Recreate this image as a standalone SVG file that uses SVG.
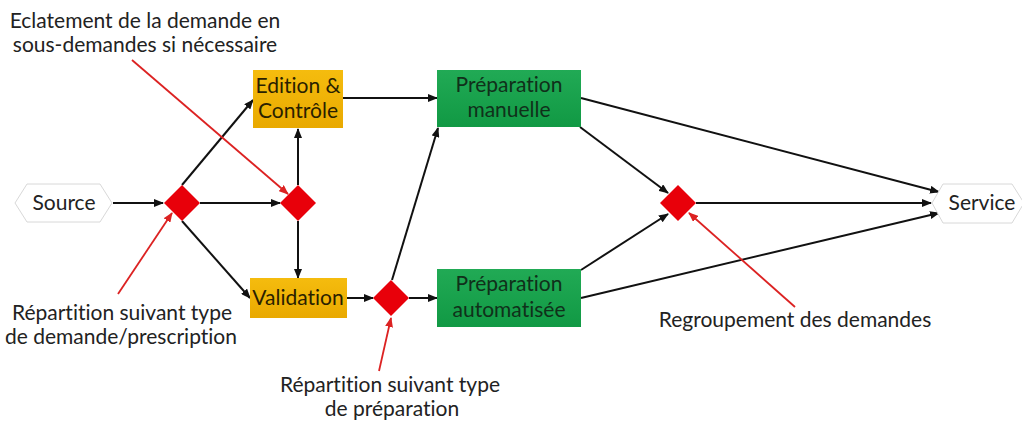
<svg xmlns="http://www.w3.org/2000/svg" width="1022" height="421" viewBox="0 0 1022 421">
<defs>
<style>
text{font-family:Lato,"Open Sans","Liberation Sans",sans-serif;font-size:21px;fill:#222;text-anchor:middle;font-variant-ligatures:none;font-feature-settings:"liga" 0}
.bt{fill:#2a1f00}
.gt{fill:#10301a}
.c{stroke:#111;stroke-width:2;fill:none;marker-end:url(#ah)}
.r{stroke:#dc2222;stroke-width:1.8;fill:none;marker-end:url(#rh)}
.hex{fill:#fff;stroke:#d8d8d8;stroke-width:1}
.dia{fill:#e8000a}
.or{fill:url(#og)}
.gr{fill:url(#gg)}
</style>
<linearGradient id="og" x1="0" y1="0" x2="0" y2="1"><stop offset="0" stop-color="#f5bc0e"/><stop offset="1" stop-color="#e9a900"/></linearGradient>
<linearGradient id="gg" x1="0" y1="0" x2="0" y2="1"><stop offset="0" stop-color="#21aa55"/><stop offset="1" stop-color="#119944"/></linearGradient>
<marker id="ah" markerUnits="userSpaceOnUse" markerWidth="10" markerHeight="8" refX="9" refY="4" orient="auto"><path d="M0,0 L10,4 L0,8 z" fill="#111"/></marker>
<marker id="rh" markerUnits="userSpaceOnUse" markerWidth="10" markerHeight="8" refX="9" refY="4" orient="auto"><path d="M0,0 L10,4 L0,8 z" fill="#dc2222"/></marker>
</defs>
<g id="connectors">
<line class="c" x1="113" y1="203" x2="163" y2="203"/>
<line class="c" x1="200" y1="203" x2="280" y2="203"/>
<line class="c" x1="182" y1="185" x2="253" y2="100"/>
<line class="c" x1="182" y1="221" x2="250" y2="298"/>
<line class="c" x1="298" y1="185" x2="298" y2="129"/>
<line class="c" x1="298" y1="221" x2="298" y2="278"/>
<line class="c" x1="343" y1="98" x2="437" y2="98"/>
<line class="c" x1="347" y1="298" x2="373" y2="298"/>
<line class="c" x1="409" y1="298" x2="437" y2="298"/>
<line class="c" x1="392" y1="280" x2="438" y2="128"/>
<line class="c" x1="581" y1="98" x2="939" y2="192"/>
<line class="c" x1="580" y1="127" x2="668" y2="193"/>
<line class="c" x1="581" y1="270" x2="668" y2="214"/>
<line class="c" x1="696" y1="203" x2="931" y2="203"/>
<line class="c" x1="581" y1="298" x2="939" y2="213"/>
<line class="r" x1="132" y1="60" x2="288" y2="194"/>
<line class="r" x1="118" y1="294" x2="172" y2="213"/>
<line class="r" x1="379" y1="371" x2="391" y2="318"/>
<line class="r" x1="795" y1="307" x2="689" y2="213"/>
</g>
<g id="source"><polygon class="hex" points="15,203 27,184 100,184 112,203 100,222 27,222"/><text x="64" y="210">Source</text></g>
<g id="service"><polygon class="hex" points="932,203 943,184 1012,184 1024,203 1012,223 943,223"/><text x="982" y="210">Service</text></g>
<g id="d1"><polygon class="dia" points="182,185 200,203 182,221 164,203"/></g>
<g id="d2"><polygon class="dia" points="298,185 316,203 298,221 280,203"/></g>
<g id="d3"><polygon class="dia" points="391,280 409,298 391,316 373,298"/></g>
<g id="d4"><polygon class="dia" points="678,185 696,203 678,221 660,203"/></g>
<g id="edition"><rect class="or" x="253" y="70" width="90" height="58"/><text class="bt" x="298" y="93">Edition &amp;</text><text class="bt" x="298" y="118">Contrôle</text></g>
<g id="validation"><rect class="or" x="250" y="278" width="97" height="40"/><text class="bt" x="298" y="305">Validation</text></g>
<g id="prep-manuelle"><rect class="gr" x="437" y="70" width="144" height="57"/><text class="gt" x="509" y="92">Préparation</text><text class="gt" x="509" y="117">manuelle</text></g>
<g id="prep-auto"><rect class="gr" x="437" y="269" width="144" height="58"/><text class="gt" x="509" y="291">Préparation</text><text class="gt" x="509" y="317">automatisée</text></g>
<g id="labels">
<text x="145" y="28">Eclatement de la demande en</text>
<text x="145" y="52">sous-demandes si nécessaire</text>
<text x="122" y="320">Répartition suivant type</text>
<text x="121" y="344">de demande/prescription</text>
<text x="390" y="392">Répartition suivant type</text>
<text x="392" y="416">de préparation</text>
<text x="795" y="327">Regroupement des demandes</text>
</g>
</svg>
